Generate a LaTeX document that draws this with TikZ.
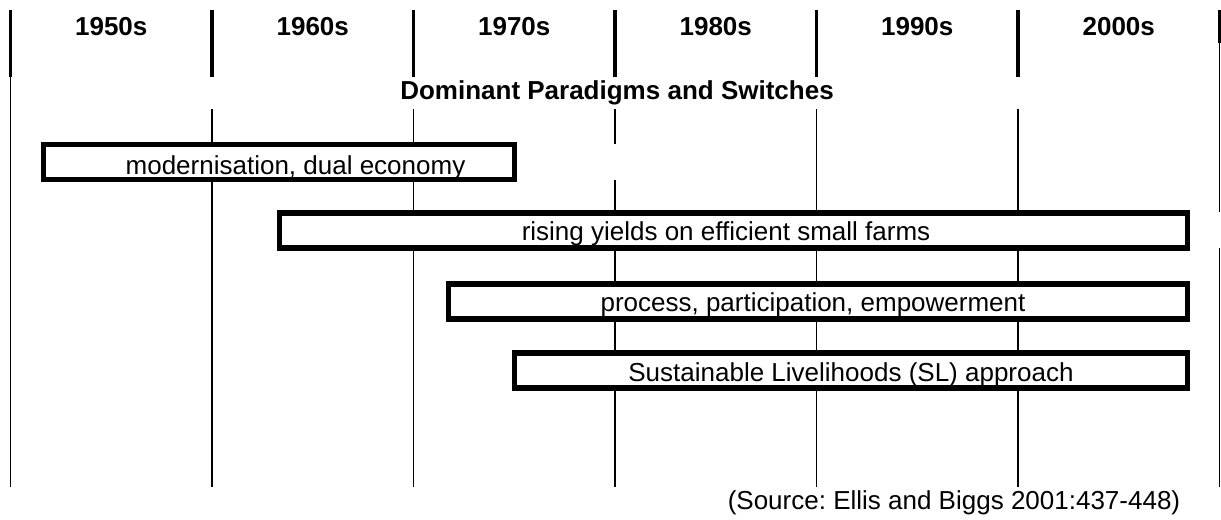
\documentclass[tikz,border=0pt]{standalone}
\usepackage{fontspec}
\setmainfont{Liberation Sans}
\usetikzlibrary{positioning}
\frenchspacing
\newcommand{\chartfont}{\fontsize{14.8}{17}\selectfont}
\tikzset{decade/.style={font=\chartfont\bfseries,anchor=base},
         caption/.style={font=\chartfont,anchor=base},
         paradigm/.style={draw,line width=3.1pt,fill=white,inner sep=0pt,minimum height=0.7cm},
         divider/.style={line width=1.85pt},
         gridline/.style={line width=0.75pt}}

\begin{document}
\begin{tikzpicture}[x=0.02cm,y=-0.02cm]
\useasboundingbox (0,0) rectangle (1221,520);

% decades along the top
\foreach \i/\d in {0/1950s,1/1960s,2/1970s,3/1980s,4/1990s,5/2000s} {
  \draw[divider] (10.5+201.5*\i,10) -- (10.5+201.5*\i,77);
  \node[decade] (d\i) at (111.25+201.5*\i,36) {\d};
}
\draw[divider] (1219.5,10) -- (1219.5,43);

% thin column lines
\begin{scope}[gridline]
\draw (10.5,77) -- (10.5,487);
\foreach \i in {1,2,4,5}
  \draw (10.5+201.5*\i,109) -- (10.5+201.5*\i,487);
\draw (615,109) -- (615,144);
\draw (615,180) -- (615,487);
\draw (1219.5,43) -- (1219.5,212);
\draw (1219.5,248) -- (1219.5,487);
\end{scope}

\node[decade] (title) at (617,100) {Dominant Paradigms and Switches};

% paradigm bars
\node[paradigm,minimum width=9.42cm] (modern) at (279,162) {};
\node[paradigm,minimum width=18.16cm] (yields) at (733.5,230.5) {};
\node[paradigm,minimum width=14.78cm] (process) at (818,301.5) {};
\node[paradigm,minimum width=13.46cm] (sl) at (851,370.5) {};

\node[caption] (moderntxt) at (295.5,175) {modernisation, dual economy};
\node[caption] (yieldstxt) at (726,241) {rising yields on efficient small farms};
\node[caption] (processtxt) at (813,312) {process, participation, empowerment};
\node[caption] (sltxt) at (851,381) {Sustainable Livelihoods (SL) approach};

\node[caption] (source) at (954,509) {(Source: Ellis and Biggs 2001:437-448)};

\end{tikzpicture}
\end{document}
